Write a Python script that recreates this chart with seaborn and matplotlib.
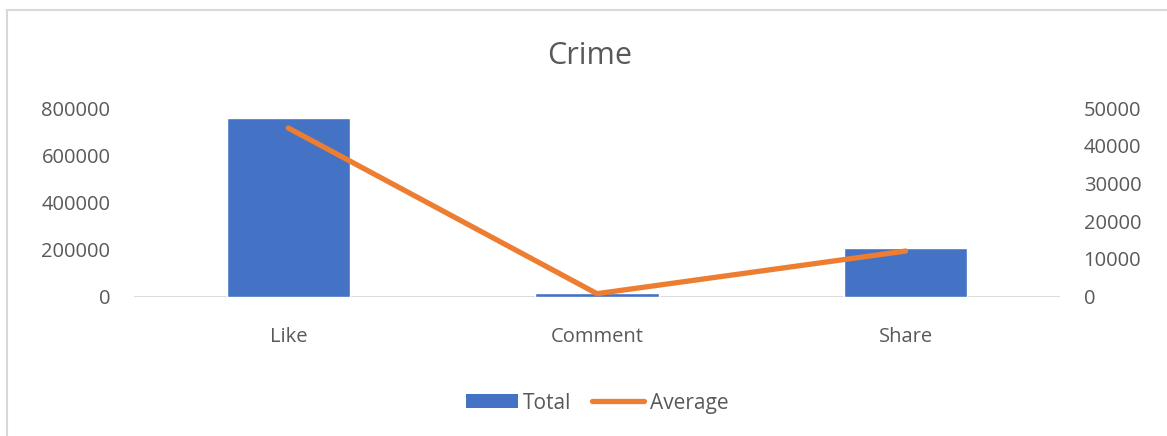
import matplotlib
matplotlib.use("Agg")
import matplotlib.pyplot as plt
import seaborn as sns
import numpy as np
import pandas as pd
from matplotlib.patches import Patch, Rectangle
from matplotlib.lines import Line2D

categories = ["Like", "Comment", "Share"]
total = [757000, 14000, 206500]
average = [44700, 800, 12100]
left_ticks = [0, 200000, 400000, 600000, 800000]
right_ticks = [0, 10000, 20000, 30000, 40000, 50000]

sns.set_theme(style="white")
plt.rcParams['font.family'] = ['Open Sans', 'DejaVu Sans']
TXT = "#595959"
BLUE = "#4472C4"
ORANGE = "#ED7D31"

df = pd.DataFrame({"cat": categories, "total": total, "average": average})

fig = plt.figure(figsize=(11.67, 4.36), dpi=100)
ax = fig.add_axes([134/1167, 1-296.7/436, (1060-134)/1167, (296.7-108)/436])
sns.barplot(data=df, x="cat", y="total", color=BLUE, width=0.4, saturation=1, ax=ax)
ax.set_xlim(-0.5, 2.5)
ax.set_ylim(0, 800000)
ax.set_yticks(left_ticks)
ax.set_yticklabels([str(t) for t in left_ticks])
ax.set_xlabel("")
ax.set_ylabel("")
for s in ax.spines.values():
    s.set_visible(False)
ax.axhline(0, color="#D9D9D9", lw=1.3, zorder=0.5)
ax.tick_params(axis="y", length=0, pad=17, labelsize=14.5, labelcolor=TXT)
ax.tick_params(axis="x", length=0, pad=22, labelsize=14.5, labelcolor=TXT)

ax2 = ax.twinx()
sns.lineplot(data=df, x="cat", y="average", color=ORANGE, lw=3.8, ax=ax2,
             solid_capstyle="round", solid_joinstyle="round", sort=False)
ax2.set_ylim(0, 50000)
ax2.set_yticks(right_ticks)
ax2.set_yticklabels([str(t) for t in right_ticks])
ax2.set_ylabel("")
for s in ax2.spines.values():
    s.set_visible(False)
ax2.tick_params(axis="y", length=0, pad=17, labelsize=14.5, labelcolor=TXT)
ax2.set_xlim(-0.5, 2.5)

fig.text(590/1167, 1-56/436, "Crime", ha="center", va="center", fontsize=22, color=TXT)

# outer chart frame
fig.add_artist(Rectangle((7/1167, -0.05), 1.2, 1-10/436+0.05, transform=fig.transFigure,
                         fill=False, edgecolor="#D9D9D9", lw=1.5))

handles = [Patch(facecolor=BLUE, edgecolor="none"),
           Line2D([], [], color=ORANGE, lw=3.8)]
fig.legend(handles, ["Total", "Average"], loc="center", bbox_to_anchor=(597/1167, 1-403/436),
           ncol=2, frameon=False, fontsize=15, labelcolor=TXT, handlelength=2.5,
           handleheight=0.67, handletextpad=0.25, columnspacing=1.0)

fig.savefig("out.png", dpi=100)
